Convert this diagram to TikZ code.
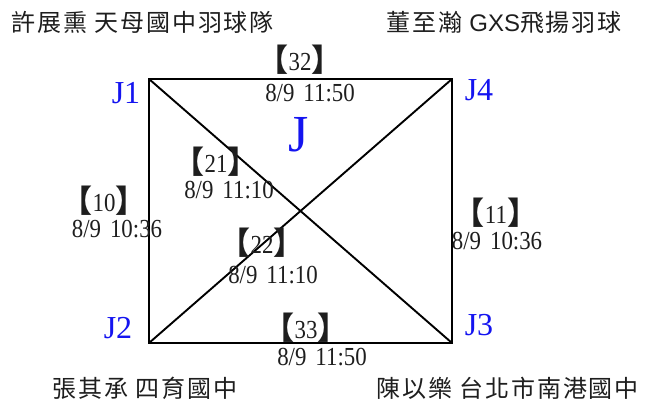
\documentclass[tikz,border=0pt]{standalone}
\usepackage{fontspec}
\setmainfont{Liberation Serif}
\newfontfamily\numf[FakeStretch=0.88]{Liberation Serif}
\newfontfamily\cjk[LetterSpace=8]{Noto Sans CJK TC}
\newfontfamily\cjkb{Noto Sans CJK TC}
\newfontfamily\arialf{Liberation Sans}
\newcommand\mybrk[1]{{\cjkb\bfseries\fontsize{31}{34}\selectfont\raisebox{-1pt}{【}}#1{\cjkb\bfseries\fontsize{31}{34}\selectfont\raisebox{-1pt}{】}}}
\newcommand\tm[2]{#1\hspace{9pt}#2}
\definecolor{jblue}{RGB}{20,20,240}
\definecolor{ink}{RGB}{30,30,30}
\begin{document}
\begin{tikzpicture}[x=1pt,y=-1pt,
  names/.style={font=\cjk\fontsize{24}{28}\selectfont, anchor=west, inner sep=0pt, text=ink},
  jl/.style={text=jblue, font=\fontsize{32}{36}\selectfont, inner sep=0pt},
  num/.style={font=\numf\fontsize{26}{30}\selectfont, inner sep=0pt, text=ink},
  edge/.style={line width=1.9pt, black, line join=miter}]
\useasboundingbox (0,0) rectangle (652,403);
% corners
\coordinate (c1) at (149,79);
\coordinate (c4) at (452,79);
\coordinate (c3) at (452,343);
\coordinate (c2) at (149,343);
\draw[edge] (c1) -- (c4) -- (c3) -- (c2) -- cycle;
\draw[edge] (c1) -- (c3);
\draw[edge] (c2) -- (c4);
% player names
\node[names] (p1) at (11,22) {許展熏 天母國中羽球隊};
\node[names] (p4) at (386,22) {董至瀚 {\arialf\fontsize{24}{28}\selectfont GXS}飛揚羽球};
\node[names] (p2) at (52,388) {張其承 四育國中};
\node[names] (p3) at (376,388) {陳以樂 台北市南港國中};
% J labels
\node[jl] (j1) at (126,93) {J1};
\node[jl] (j4) at (479,90) {J4};
\node[jl] (j2) at (118,328) {J2};
\node[jl] (j3) at (479,325) {J3};
\node[text=jblue, font=\fontsize{52}{56}\selectfont, inner sep=0pt] (jg) at (299,135) {J};
% match labels
\node[num] (m32) at (300,60) {\mybrk{32}};
\node[num] (t32) at (310,93) {\tm{8/9}{11:50}};
\node[num] (m21) at (216,162) {\mybrk{21}};
\node[num] (t21) at (229,190) {\tm{8/9}{11:10}};
\node[num] (m10) at (104,201) {\mybrk{10}};
\node[num] (t10) at (117,229) {\tm{8/9}{10:36}};
\node[num] (m22) at (262,243) {\mybrk{22}};
\node[num] (t22) at (273,275) {\tm{8/9}{11:10}};
\node[num] (m33) at (306,328) {\mybrk{33}};
\node[num] (t33) at (322,357) {\tm{8/9}{11:50}};
\node[num] (m11) at (496,213) {\mybrk{11}};
\node[num] (t11) at (497,241) {\tm{8/9}{10:36}};
\end{tikzpicture}
\end{document}
